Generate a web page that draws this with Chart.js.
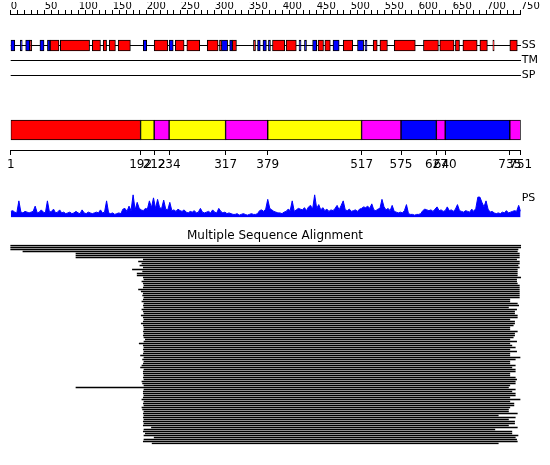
<!DOCTYPE html>
<html>
<head>
<meta charset="utf-8">
<script src="https://cdn.jsdelivr.net/npm/chart.js@4"></script>
<style>
  body { margin: 0; background: #fff; }
  #wrap { position: relative; width: 550px; height: 465px; }
  canvas { position: absolute; left: 0; }
</style>
</head>
<body>
<div id="wrap">
  <canvas id="rulerChart" width="550" height="40" style="top:0px"></canvas>
  <canvas id="trackChart" width="550" height="60" style="top:30px"></canvas>
  <canvas id="domainChart" width="550" height="65" style="top:110px"></canvas>
  <canvas id="psChart" width="550" height="40" style="top:185px"></canvas>
  <canvas id="msaChart" width="550" height="220" style="top:228px"></canvas>
</div>
<script>
// pixel span of residues 0..750
const X0 = 10.7;
const X1 = 520.7;

// secondary structure (H = helix, E = strand)
const tracks = ["SS", "TM", "SP"];
const ssStart = [0, 14, 22, 28, 43, 54, 58, 73, 120, 136, 145, 158, 195, 211, 233, 242, 259, 289, 307, 310, 322, 326, 357, 363, 371, 379, 385, 405, 424, 432, 444, 452, 462, 474, 489, 510, 521, 533, 543, 564, 607, 631, 654, 665, 690, 709, 734];
const ssEnd = [6, 17, 28, 31, 49, 58, 71, 116, 132, 141, 154, 176, 200, 231, 239, 255, 278, 305, 310, 319, 326, 332, 360, 367, 376, 382, 403, 420, 427, 435, 450, 460, 470, 483, 503, 519, 524, 539, 554, 595, 629, 652, 660, 686, 701, 711, 745];
const ssType = ["E","E","E","H","E","E","H","H","H","H","H","H","E","H","E","H","H","H","H","E","E","H","H","E","E","E","H","H","E","E","E","H","H","E","H","E","E","H","H","H","H","H","H","H","H","H","H"];

// domains
const domStart = [1, 192, 212, 234, 317, 379, 517, 575, 627, 640, 735];
const domEnd = [192, 212, 234, 317, 379, 517, 575, 627, 640, 735, 751];
const domColor = ["#ff0000", "#ffff00", "#ff00ff", "#ffff00", "#ff00ff", "#ffff00", "#ff00ff", "#0000ff", "#ff00ff", "#0000ff", "#ff00ff"];
const domTicks = [1, 192, 212, 234, 317, 379, 517, 575, 627, 640, 735, 751];

// PS profile, one value every 3 residues
const psStep = 3;
const psScore = [
  8,9,7,6,22,7,6,8,7,6,7,8,15,6,7,10,7,6,22,7,
  8,11,6,7,10,6,7,5,6,7,5,6,8,6,5,10,6,5,7,6,
  5,6,7,6,10,6,7,22,6,5,6,4,5,6,5,11,12,8,15,9,
  30,10,20,12,10,9,12,11,22,13,26,12,24,13,12,23,11,10,20,9,
  10,8,11,9,8,10,7,6,8,7,9,6,7,12,7,6,7,8,6,10,
  7,6,12,8,6,7,5,6,5,4,4,5,3,4,5,4,3,4,5,4,
  4,5,9,10,8,11,24,12,10,8,7,6,6,5,7,8,11,9,22,8,
  10,12,11,10,13,9,14,16,11,30,12,17,10,13,9,11,8,10,9,12,
  16,10,16,22,10,9,11,8,9,10,8,11,12,14,13,15,12,18,10,9,
  11,12,24,14,10,12,9,16,8,7,6,7,6,9,17,5,4,4,3,4,
  4,5,9,11,10,9,10,8,11,14,9,10,8,9,14,9,10,8,11,17,
  9,8,7,9,8,7,11,8,12,27,27,20,14,22,11,7,8,6,5,6,
  5,7,6,9,6,7,8,9,8,16,8
];

// alignment rows: first and last aligned residue
const msaStart = [
  0,0,0,18,96,96,96,195,188,193,
  190,195,179,194,186,186,195,196,193,195,
  196,195,188,192,195,194,196,195,193,196,
  195,196,193,195,196,192,195,196,195,192,
  195,196,196,195,196,195,196,198,196,189,
  195,196,195,196,195,191,196,194,196,195,
  193,191,196,195,195,196,195,196,193,194,
  196,96,196,195,195,196,195,193,196,195,
  196,193,194,196,195,196,195,196,195,196,
  195,207,196,195,198,196,211,196,195,208
];
const msaEnd = [
  750,750,746,745,748,748,748,744,748,748,
  746,748,745,745,745,745,750,744,744,745,
  748,748,748,748,748,748,748,734,734,745,
  747,732,744,741,741,745,745,734,741,741,
  739,734,734,745,741,741,739,734,744,734,
  737,742,734,744,734,734,749,742,734,734,
  742,737,742,742,734,734,742,744,742,742,
  734,732,742,737,742,742,734,749,734,740,
  740,734,732,732,745,717,742,732,741,741,
  732,745,712,737,737,746,742,744,745,717
];
const msaRows = msaStart.map((s, i) => "seq" + (i + 1));

Chart.defaults.font.family = "'DejaVu Sans', sans-serif";
Chart.defaults.color = "#000";
Chart.defaults.animation = false;
Chart.defaults.responsive = false;
Chart.defaults.plugins.legend.display = false;
Chart.defaults.plugins.tooltip.enabled = false;

const rightWidth = (s) => { s.width = 550 - X1; };

// ruler
new Chart(document.getElementById("rulerChart"), {
  type: "line",
  data: { datasets: [] },
  options: {
    layout: { padding: { left: X0, right: 550 - X1, top: 2 } },
    scales: {
      x: {
        type: "linear", position: "top", min: 0, max: 750,
        grid: { drawOnChartArea: false, tickLength: 4, color: "#000" },
        border: { color: "#000" },
        ticks: {
          stepSize: 10, autoSkip: false, maxRotation: 0, align: "start", padding: 0,
          font: { size: 10, lineHeight: 0.8 },
          callback: (v) => (v % 50 === 0 ? String(v) : "")
        }
      },
      y: { display: false }
    }
  }
});

// SS / TM / SP tracks
new Chart(document.getElementById("trackChart"), {
  type: "bar",
  data: {
    labels: tracks,
    datasets: [{
      data: ssStart.map((s, i) => ({ x: [s, ssEnd[i]], y: "SS" })),
      backgroundColor: ssType.map((t) => (t === "H" ? "#ff0000" : "#0000ff")),
      borderColor: "#000",
      borderWidth: 1,
      borderSkipped: false,
      barThickness: 11
    }]
  },
  options: {
    indexAxis: "y",
    layout: { padding: { left: X0, top: 8, bottom: 7 } },
    scales: {
      x: { type: "linear", display: false, min: 0, max: 750 },
      y: {
        position: "right",
        grid: { offset: false, color: "#000", drawTicks: false },
        border: { display: false },
        ticks: { autoSkip: false, padding: 1, font: { size: 11, lineHeight: 1 } },
        afterFit: rightWidth
      }
    }
  }
});

// domain bar
new Chart(document.getElementById("domainChart"), {
  type: "bar",
  data: {
    labels: ["Domains"],
    datasets: [{
      data: domStart.map((s, i) => ({ x: [s, domEnd[i]], y: "Domains" })),
      backgroundColor: domColor,
      borderColor: "#000",
      borderWidth: 1,
      borderSkipped: false,
      barThickness: 20
    }]
  },
  options: {
    indexAxis: "y",
    layout: { padding: { left: X0, right: 550 - X1 } },
    scales: {
      x: {
        type: "linear", min: 1, max: 751,
        afterBuildTicks: (s) => { s.ticks = domTicks.map((v) => ({ value: v })); },
        grid: { drawOnChartArea: false, tickLength: 5, color: "#000" },
        border: { color: "#000" },
        ticks: {
          autoSkip: false, maxRotation: 0, minRotation: 0, padding: 2.5,
          font: { size: 12, lineHeight: 1.25 },
          callback: (v) => String(v)
        }
      },
      y: { display: false }
    }
  }
});

// PS profile
new Chart(document.getElementById("psChart"), {
  type: "line",
  data: {
    datasets: [{
      data: psScore.map((v, i) => ({ x: i * psStep, y: v })),
      borderColor: "#0000ff",
      backgroundColor: "#0000ff",
      borderWidth: 1,
      fill: "origin",
      pointRadius: 0
    }]
  },
  options: {
    layout: { padding: { left: X0, top: 3, bottom: 4 } },
    scales: {
      x: { type: "linear", display: false, min: 0, max: 750 },
      y: {
        position: "right", min: 0, max: 33,
        grid: { drawOnChartArea: false, drawTicks: false },
        border: { display: false },
        afterBuildTicks: (s) => { s.ticks = [{ value: 25 }]; },
        ticks: { padding: 1, font: { size: 11 }, callback: () => "PS" },
        afterFit: rightWidth
      }
    }
  }
});

// multiple sequence alignment
const pxPerRes = (X1 - X0) / 750;
new Chart(document.getElementById("msaChart"), {
  type: "bar",
  data: {
    labels: msaRows,
    datasets: [{
      data: msaStart.map((s, i) => [s, msaEnd[i]]),
      backgroundColor: "#000",
      borderWidth: 0,
      barThickness: 1
    }]
  },
  options: {
    indexAxis: "y",
    layout: { padding: { top: 0.5, bottom: 3.5 } },
    plugins: {
      title: {
        display: true,
        text: "Multiple Sequence Alignment",
        color: "#000",
        font: { size: 12, weight: "normal", lineHeight: 1.25 },
        padding: { top: 0, bottom: 1 }
      }
    },
    scales: {
      x: { type: "linear", display: false, min: -X0 / pxPerRes, max: 750 + (550 - X1) / pxPerRes },
      y: { display: false }
    }
  }
});
</script>
</body>
</html>
